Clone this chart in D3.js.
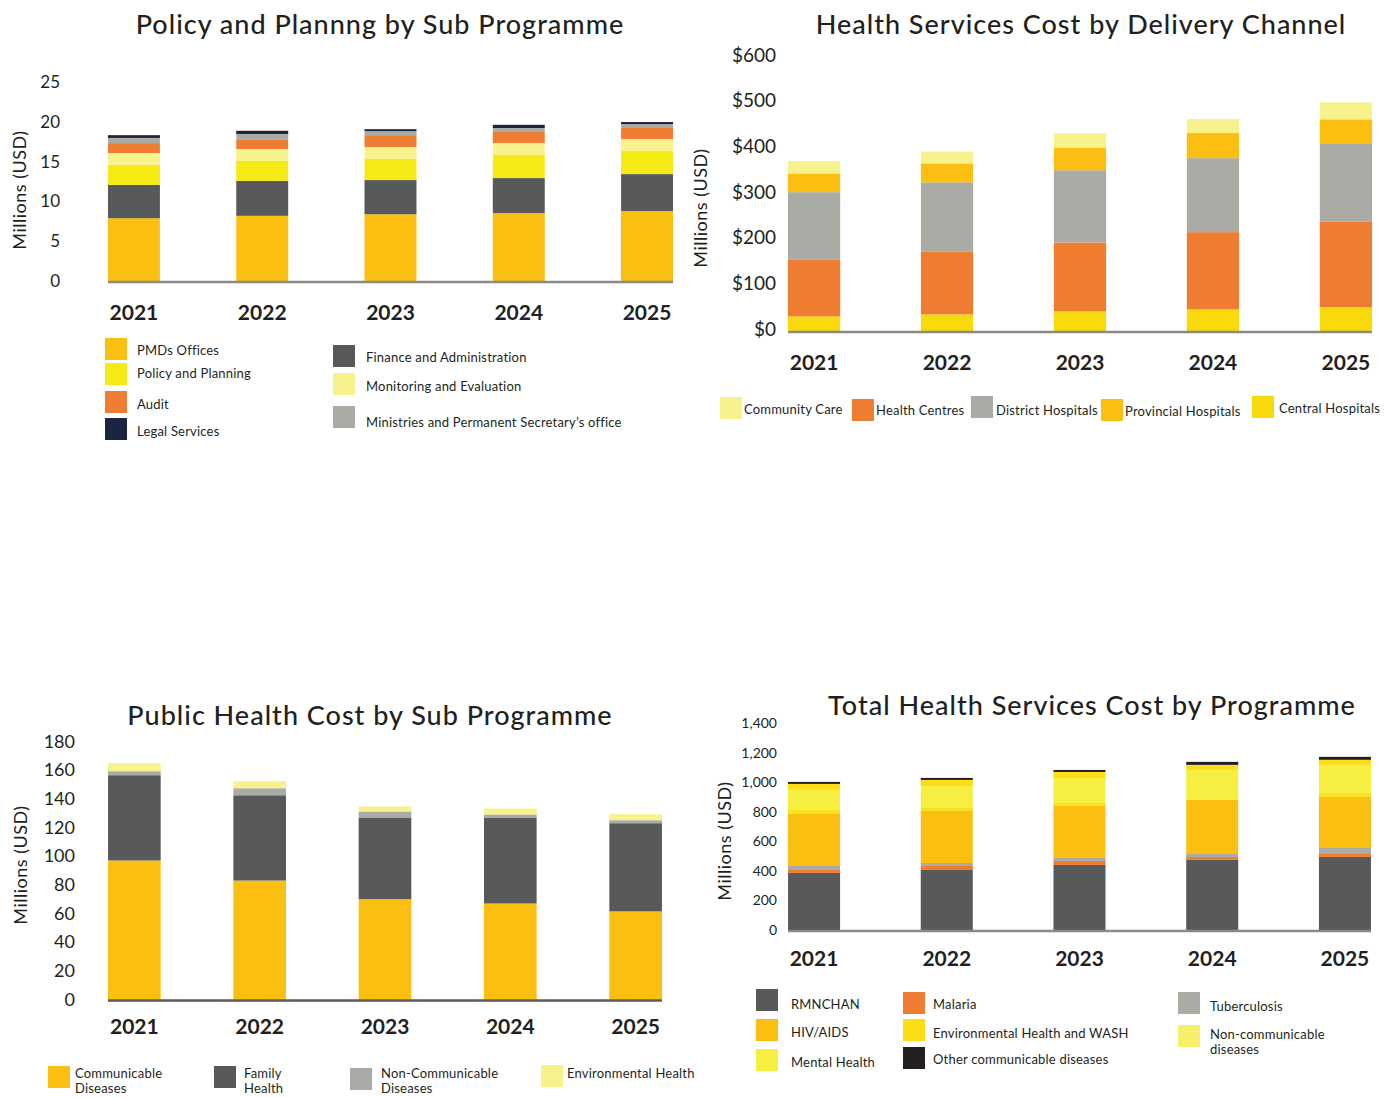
<!DOCTYPE html>
<html><head><meta charset="utf-8">
<script src="https://cdn.jsdelivr.net/npm/d3@7"></script>
<style>body{margin:0;background:#fff}svg{display:block}text{font-family:Lato,"Open Sans",sans-serif;fill:#231F20}</style>
</head><body><svg id="c" width="1397" height="1098"></svg>
<script>
const years = ["2021","2022","2023","2024","2025"];

// Chart 1: Policy and Planning by Sub Programme (millions USD)
const ppNames = ["PMDs Offices","Finance and Administration","Policy and Planning","Monitoring and Evaluation","Audit","Ministries and Permanent Secretary's office","Legal Services"];
const ppPMDs = [7.9, 8.2, 8.4, 8.55, 8.8];
const ppFinance = [4.2, 4.4, 4.3, 4.4, 4.65];
const ppPolicy = [2.5, 2.5, 2.65, 2.9, 2.9];
const ppME = [1.5, 1.5, 1.5, 1.5, 1.5];
const ppAudit = [1.25, 1.15, 1.5, 1.5, 1.4];
const ppMinistries = [0.65, 0.75, 0.5, 0.4, 0.5];
const ppLegal = [0.35, 0.4, 0.25, 0.4, 0.25];
const ppTicks = [0, 5, 10, 15, 20, 25];

// Chart 2: Health Services Cost by Delivery Channel
const hsNames = ["Central Hospitals","Health Centres","District Hospitals","Provincial Hospitals","Community Care"];
const hsCentral = [32, 36.5, 43, 47.5, 52];
const hsHealthCentres = [125, 138, 151, 169, 188];
const hsDistrict = [147, 151, 158, 162, 171];
const hsProvincial = [41, 41.5, 50, 55, 52.5];
const hsCommunity = [27, 26, 31, 30.5, 37];
const hsTicks = [0, 100, 200, 300, 400, 500, 600];

// Chart 3: Public Health Cost by Sub Programme
const phNames = ["Communicable Diseases","Family Health","Non-Communicable Diseases","Environmental Health"];
const phCommunicable = [97, 83, 70, 67, 61.5];
const phFamily = [59.5, 59.5, 57, 60, 61.5];
const phNonCommunicable = [2.8, 4.9, 4.2, 2.1, 2.1];
const phEnvironmental = [5.6, 4.9, 3.5, 4.2, 4.2];
const phTicks = [0, 20, 40, 60, 80, 100, 120, 140, 160, 180];

// Chart 4: Total Health Services Cost by Programme
const tpNames = ["RMNCHAN","Malaria","Tuberculosis","HIV/AIDS","Non-communicable diseases","Mental Health","Environmental Health and WASH","Other communicable diseases"];
const tpRMNCHAN = [386, 406, 440, 474, 494];
const tpMalaria = [20, 27, 27, 20, 20];
const tpTB = [27, 20, 20, 20, 41];
const tpHIV = [352, 352, 352, 366, 345];
const tpNCD = [27, 20, 20, 0, 27];
const tpMental = [136, 149, 169, 203, 190];
const tpWASH = [40, 41, 41, 34, 34];
const tpOther = [13.5, 13.5, 13.5, 20, 20];
const tpTicks = [0, 200, 400, 600, 800, 1000, 1200, 1400];

const C = {amber:"#FBBF12", dark:"#58595B", yellow:"#F6EA14", light:"#F8F28C", orange:"#EE7D31",
  gray:"#ABABA6", navy:"#1B2541", gold:"#F8D90B", black:"#231F20", mental:"#F6EE40", ncd:"#F5E31C", wash:"#FDDD15"};

const svg = d3.select("#c");

function chart(cfg){
  const g = svg.append("g");
  const x = d3.scaleBand().domain(years).range(cfg.xRange).paddingInner(cfg.pad).paddingOuter(cfg.pad/2);
  const y = d3.scaleLinear().domain([0, cfg.max]).range([cfg.base, cfg.top]);
  const rows = years.map((yr,i)=>{const o={year:yr}; cfg.names.forEach((n,j)=>o[n]=cfg.series[j][i]); return o;});
  const stacked = d3.stack().keys(cfg.names)(rows);
  g.selectAll("g.layer").data(stacked).join("g").attr("class","layer").attr("fill",(d,i)=>cfg.colors[i])
    .selectAll("rect").data(d=>d).join("rect")
    .attr("x",d=>x(d.data.year)).attr("width",x.bandwidth())
    .attr("y",d=>y(d[1])).attr("height",d=>Math.max(0,y(d[0])-y(d[1])));
  g.append("line").attr("x1",x(years[0])).attr("x2",x(years[years.length-1])+x.bandwidth())
    .attr("y1",cfg.base+1).attr("y2",cfg.base+1).attr("stroke",cfg.baseColor||"#8a8a8a").attr("stroke-width",2.5);
  const ax = g.append("g").attr("transform",`translate(${cfg.axisX},${cfg.tickDy||0})`)
    .call(d3.axisLeft(y).tickValues(cfg.ticks).tickSize(0).tickPadding(0).tickFormat(cfg.fmt));
  ax.select(".domain").remove();
  ax.selectAll("text").attr("font-size",cfg.tickSize).attr("font-family","Lato, sans-serif").attr("fill","#231F20");
  g.selectAll("text.xl").data(years).join("text").attr("class","xl")
    .attr("x",d=>x(d)+x.bandwidth()/2).attr("y",cfg.xLabY).attr("text-anchor","middle")
    .attr("dominant-baseline","central").attr("font-size",21).attr("font-weight",700).text(d=>d);
  g.append("text").attr("transform",`translate(${cfg.yLab[0]},${cfg.yLab[1]}) rotate(-90)`)
    .attr("text-anchor","middle").attr("dominant-baseline","central").attr("font-size",18)
    .attr("letter-spacing",0.5).text("Millions (USD)");
  g.append("text").attr("x",cfg.title[0]).attr("y",cfg.title[1]).attr("text-anchor","middle")
    .attr("dominant-baseline","central").attr("font-size",27).attr("font-weight",500)
    .attr("letter-spacing",1).text(cfg.titleText);
  // legend
  cfg.legend.forEach(l=>{
    const i = cfg.names.indexOf(l.name);
    g.append("rect").attr("x",l.sx).attr("y",l.sy).attr("width",22).attr("height",22).attr("fill",l.color||cfg.colors[i]);
    const t = g.append("text").attr("x",l.tx).attr("font-size",13).attr("letter-spacing",0.2).attr("dominant-baseline","central");
    (l.lines||[l.name]).forEach((ln,k)=>t.append("tspan").attr("x",l.tx).attr("y",l.ty+k*15).text(ln));
  });
}

chart({titleText:"Policy and Plannng by Sub Programme", title:[380,23],
  names:ppNames, series:[ppPMDs,ppFinance,ppPolicy,ppME,ppAudit,ppMinistries,ppLegal],
  colors:[C.amber,C.dark,C.yellow,C.light,C.orange,C.gray,C.navy],
  xRange:[69.8,711.2], pad:0.595, base:281, top:82.3, max:25, ticks:ppTicks, fmt:d3.format("d"),
  axisX:60, tickSize:17, xLabY:311, yLab:[19,190],
  legend:[
    {name:"PMDs Offices", sx:105, sy:338, tx:137, ty:350},
    {name:"Policy and Planning", sx:105, sy:363, tx:137, ty:373},
    {name:"Audit", sx:105, sy:391, tx:137, ty:404},
    {name:"Legal Services", sx:105, sy:418, tx:137, ty:431},
    {name:"Finance and Administration", sx:333, sy:345, tx:366, ty:357},
    {name:"Monitoring and Evaluation", sx:333, sy:373, tx:366, ty:386},
    {name:"Ministries and Permanent Secretary's office", lines:["Ministries and Permanent Secretary’s office"], sx:333, sy:406, tx:366, ty:422}
  ]});

chart({titleText:"Health Services Cost by Delivery Channel", title:[1081,23],
  names:hsNames, series:[hsCentral,hsHealthCentres,hsDistrict,hsProvincial,hsCommunity],
  colors:[C.gold,C.orange,C.gray,C.amber,C.light],
  xRange:[747.6,1412.4], pad:0.607, base:331, top:57, max:600, ticks:hsTicks, fmt:d=>"$"+d,
  axisX:776, tickSize:19, tickDy:-2, xLabY:361, yLab:[700,208],
  legend:[
    {name:"Community Care", sx:720, sy:397, tx:744, ty:409},
    {name:"Health Centres", sx:852, sy:399, tx:876, ty:410},
    {name:"District Hospitals", sx:971, sy:396, tx:996, ty:410},
    {name:"Provincial Hospitals", sx:1101, sy:399, tx:1125, ty:411},
    {name:"Central Hospitals", sx:1252, sy:396, tx:1279, ty:408}
  ]});

chart({titleText:"Public Health Cost by Sub Programme", title:[370,714],
  names:phNames, series:[phCommunicable,phFamily,phNonCommunicable,phEnvironmental],
  colors:[C.amber,C.dark,C.gray,C.light],
  xRange:[71.7,698.3], pad:0.58, base:999.5, top:741.5, max:180, ticks:phTicks, fmt:d3.format("d"),
  axisX:75, tickSize:18, xLabY:1025, yLab:[20,865], baseColor:"#58595B",
  legend:[
    {name:"Communicable Diseases", lines:["Communicable","Diseases"], sx:48, sy:1066, tx:75, ty:1073},
    {name:"Family Health", lines:["Family","Health"], sx:214, sy:1066, tx:244, ty:1073},
    {name:"Non-Communicable Diseases", lines:["Non-Communicable","Diseases"], sx:350, sy:1068, tx:381, ty:1073},
    {name:"Environmental Health", sx:541, sy:1065, tx:567, ty:1073}
  ]});

chart({titleText:"Total Health Services Cost by Programme", title:[1092,704],
  names:tpNames, series:[tpRMNCHAN,tpMalaria,tpTB,tpHIV,tpNCD,tpMental,tpWASH,tpOther],
  colors:[C.dark,C.orange,C.gray,C.amber,C.ncd,C.mental,C.wash,C.black],
  xRange:[747.7,1411.3], pad:0.608, base:930, top:723, max:1400, ticks:tpTicks, fmt:d3.format(","),
  axisX:777, tickSize:14, xLabY:957, yLab:[724,841],
  legend:[
    {name:"RMNCHAN", sx:756, sy:989, tx:791, ty:1004},
    {name:"HIV/AIDS", sx:756, sy:1019, tx:791, ty:1032},
    {name:"Mental Health", sx:756, sy:1049, tx:791, ty:1062},
    {name:"Malaria", sx:903, sy:992, tx:933, ty:1004},
    {name:"Environmental Health and WASH", sx:903, sy:1019, tx:933, ty:1033},
    {name:"Other communicable diseases", sx:903, sy:1047, tx:933, ty:1059},
    {name:"Tuberculosis", sx:1178, sy:992, tx:1210, ty:1006},
    {name:"Non-communicable diseases", lines:["Non-communicable","diseases"], sx:1178, sy:1025, tx:1210, ty:1034, color:"#F7EF6B"}
  ]});
</script></body></html>
